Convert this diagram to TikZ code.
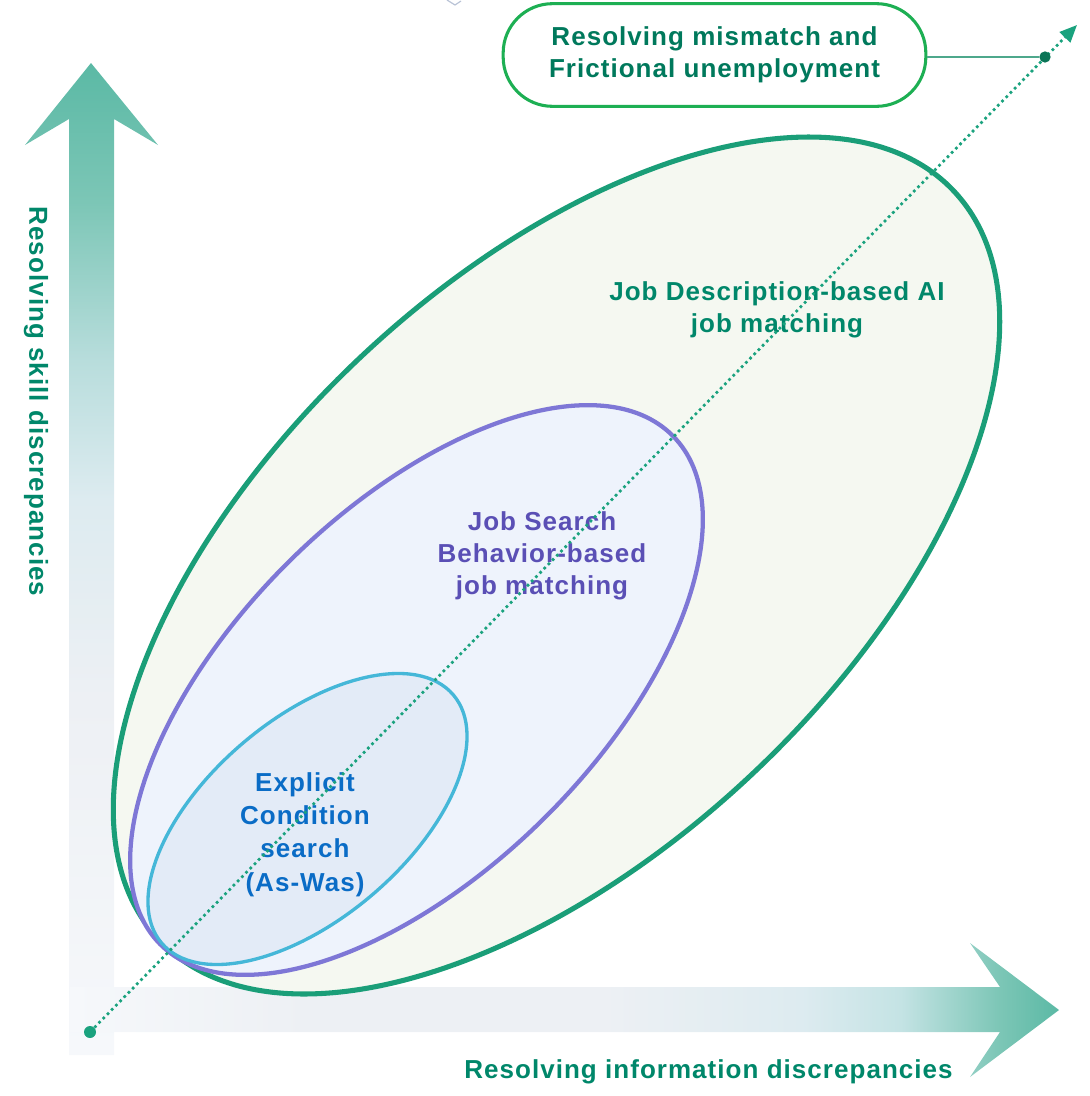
\documentclass[tikz,border=0pt]{standalone}
\usepackage{fontspec}
\setmainfont{Liberation Sans}[LetterSpace=4]
\usepackage{tikz}
\usetikzlibrary{arrows.meta,positioning}

\definecolor{axTeal}{HTML}{5BB9A5}
\definecolor{axSoft}{HTML}{7CC6B6}
\definecolor{axMid}{HTML}{B8DDDC}
\definecolor{axCyan}{HTML}{C4E3E4}
\definecolor{axLight}{HTML}{DDEBF0}
\definecolor{axGrey}{HTML}{EDF0F4}
\definecolor{axPale}{HTML}{F6F8FB}
\definecolor{txtTeal}{HTML}{00876A}
\definecolor{boxGreen}{HTML}{1DAF53}
\definecolor{boxText}{HTML}{00795C}
\definecolor{linkGreen}{HTML}{4EA88C}
\definecolor{dotDark}{HTML}{0A7456}
\definecolor{diagTeal}{HTML}{1AA27E}
\definecolor{jdLine}{HTML}{1A9E78}
\definecolor{jdFill}{HTML}{F5F8F1}
\definecolor{jsLine}{HTML}{7E77D6}
\definecolor{jsFill}{HTML}{EEF3FC}
\definecolor{jsText}{HTML}{5A4FB5}
\definecolor{ecLine}{HTML}{45B7D8}
\definecolor{ecFill}{HTML}{E3EBF7}
\definecolor{ecText}{HTML}{0A6CC6}
\definecolor{glitchGrey}{HTML}{B9C3D6}

% axis shadings (bounding box maps to 25bp..75bp)
\pgfdeclareverticalshading{skillAxis}{100bp}{color(0bp)=(axPale); color(25bp)=(axPale);
  color(43bp)=(axGrey); color(53bp)=(axLight); color(60bp)=(axMid); color(68bp)=(axSoft);
  color(75bp)=(axTeal); color(100bp)=(axTeal)}
\pgfdeclarehorizontalshading{infoAxis}{100bp}{color(0bp)=(axPale); color(25bp)=(axPale);
  color(37bp)=(axGrey); color(52bp)=(axGrey); color(62bp)=(axLight); color(67bp)=(axCyan);
  color(72bp)=(axSoft); color(75bp)=(axTeal); color(100bp)=(axTeal)}

\tikzset{
  lbl/.style={font=\fontsize{19.5}{24}\selectfont\bfseries, align=center, inner sep=0.75pt},
  dotnode/.style={circle, inner sep=0pt, minimum size=9pt},
  goalbox/.style={lbl, text=boxText, draw=boxGreen, line width=2.3pt, fill=white,
    rounded corners=37pt, minimum width=317pt, minimum height=77pt},
  diagline/.style={diagTeal, line width=2pt, dash pattern=on 2pt off 2.5pt,
    -{Triangle[length=13pt,width=11pt]}},
  linkline/.style={linkGreen, line width=1.4pt},
}

\begin{document}
\begin{tikzpicture}[x=0.75pt,y=0.75pt,yscale=-1,xscale=1]
        \useasboundingbox (0,0) rectangle (1089,1096);
        %Shape: stray mark
        \draw [glitchGrey, line width=0.9pt] (447,0) -- (455,5) -- (461,1) ;
        %Shape: vertical axis arrow
        \shade [shading=skillAxis] (69,1055) -- (69,119) -- (25,145) -- (91,63) -- (158,145)
            -- (114,119) -- (114,1055) -- cycle ;
        %Shape: horizontal axis arrow
        \shade [shading=infoAxis] (70,987) -- (1000,987) -- (970,943) -- (1059,1010)
            -- (970,1077) -- (1000,1032) -- (70,1032) -- cycle ;
        %Shape: Ellipse [job description]
        \draw [jdLine, fill=jdFill, line width=3.8pt, rotate around={-43.3:(556.5,565.5)}]
            (556.5,565.5) ellipse (546 and 286) ;
        %Shape: Ellipse [job search]
        \draw [jsLine, fill=jsFill, line width=3.2pt, rotate around={-44.75:(416.5,690)}]
            (416.5,690) ellipse (361 and 181) ;
        %Shape: Ellipse [explicit condition]
        \draw [ecLine, fill=ecFill, line width=2.5pt, rotate around={-40.4:(307.5,819)}]
            (307.5,819) ellipse (191.5 and 99.7) ;
        % Text Node
        \node [lbl, text=txtTeal] (jdLabel) at (777,309.5) {Job Description-based AI\\job matching};
        % Text Node
        \node [lbl, text=jsText] (jsLabel) at (542,556) {Job Search\\Behavior-based\\job matching};
        % Text Node
        \node [lbl, text=ecText, font=\fontsize{19.5}{25}\selectfont\bfseries] (ecLabel) at (305,834.5)
            {Explicit\\Condition\\search\\(As-Was)};
        %Straight Lines [diagonal]
        \node [dotnode, fill=diagTeal] (origin) at (90,1032) {};
        \coordinate (peak) at (1077,25);
        \draw [diagline] (origin) -- (peak) ;
        % Goal box and its link
        \node [goalbox] (goal) at (714.5,55) {Resolving mismatch and\\Frictional unemployment};
        \node [dotnode, fill=dotDark, minimum size=8.5pt] (hit) at (1045,57) {};
        \draw [linkline] (goal.east |- hit) -- (hit) ;
        % Text Node
        \node [lbl, text=txtTeal, anchor=base] (infoLabel) at (708.5,1078) {Resolving information discrepancies};
        % Text Node
        \node [lbl, text=txtTeal, rotate=-90] (skillLabel) at (36,401.5) {Resolving skill discrepancies};
\end{tikzpicture}
\end{document}
